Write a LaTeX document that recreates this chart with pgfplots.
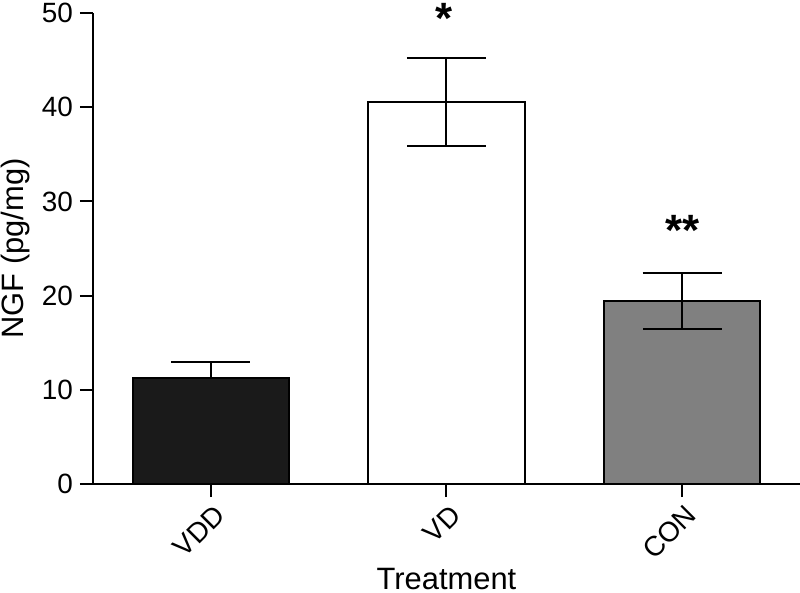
\documentclass[border=0pt]{standalone}
\usepackage{pgfplots}
\pgfplotsset{compat=1.18}
\usepackage{fontspec}
\setmainfont{Liberation Sans}
\definecolor{darkbar}{HTML}{1A1A1A}
\definecolor{greybar}{HTML}{808080}
\begin{document}
\begin{tikzpicture}
\begin{axis}[
  name=ax,
  scale only axis, width=353.5bp, height=235.5bp,
  xmin=-0.5, xmax=2.5, ymin=0, ymax=50,
  axis x line*=bottom, axis y line*=left,
  axis line style={line width=1bp},
  xtick={0,1,2}, xticklabels={VDD,VD,CON},
  ytick={0,10,...,50},
  tick align=outside, major tick length=6.5bp,
  tick style={line width=1bp, black},
  xticklabel style={xshift=7bp, yshift=-4bp, rotate=45, anchor=east, font=\fontsize{14}{14}\selectfont},
  yticklabel style={inner ysep=0pt, font=\fontsize{14}{14}\selectfont},
  /pgf/number format/assume math mode=true,
  xlabel={Treatment}, ylabel={NGF (pg/mg)},
  xlabel style={at={(axis description cs:0.5,0)}, anchor=base, yshift=-52.5bp, inner sep=0pt, font=\fontsize{15.5}{16}\selectfont},
  ylabel style={at={(axis description cs:0,0.5)}, anchor=south, yshift=31.5bp, inner sep=0pt, font=\fontsize{15.5}{16}\selectfont},
  clip=false,
  ybar, bar width=0.664, bar shift=0pt,
]
\addplot[fill=darkbar, draw=black, line width=1bp,
  error bars/.cd, y dir=plus, y explicit,
  error bar style={line width=1bp, black},
  error mark options={rotate=90, mark size=19.75bp, line width=1bp, black}]
  coordinates {(0,11.25) +- (0,1.70)};
\addplot[fill=white, draw=black, line width=1bp,
  error bars/.cd, y dir=both, y explicit,
  error bar style={line width=1bp, black},
  error mark options={rotate=90, mark size=19.75bp, line width=1bp, black}]
  coordinates {(1,40.55) +- (0,4.67)};
\addplot[fill=greybar, draw=black, line width=1bp,
  error bars/.cd, y dir=both, y explicit,
  error bar style={line width=1bp, black},
  error mark options={rotate=90, mark size=19.75bp, line width=1bp, black}]
  coordinates {(2,19.43) +- (0,2.97)};
\node[font=\fontsize{22}{22}\selectfont\bfseries, inner sep=0pt, anchor=north] at (axis cs:0.99,51.1) {*};
\node[font=\fontsize{22}{22}\selectfont\bfseries, inner sep=0pt, anchor=north] at (axis cs:2.0,28.56) {**};
\end{axis}
\pgfresetboundingbox
\path ([xshift=-46.5bp,yshift=-54.5bp]ax.south west) rectangle ([yshift=6.5bp]ax.north east);
\end{tikzpicture}
\end{document}
